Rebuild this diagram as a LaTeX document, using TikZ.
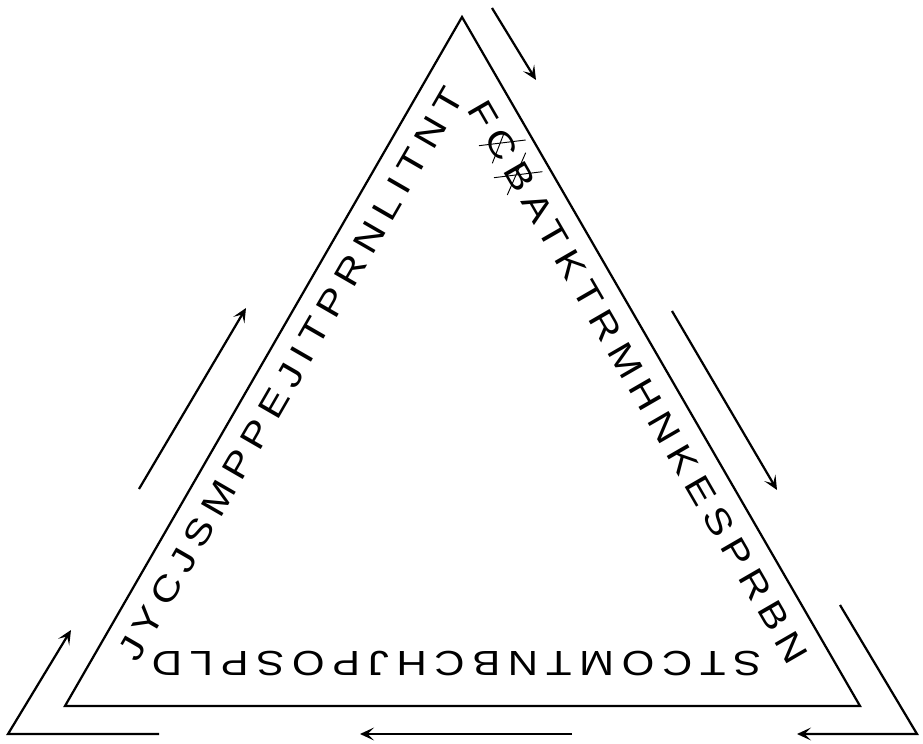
\documentclass[tikz,border=0pt]{standalone}
\usepackage{fontspec}
\setmainfont{Liberation Sans}
\newfontfamily\edgefont[LetterSpace=22, FakeStretch=1.2]{Liberation Sans}
\usetikzlibrary{arrows.meta}

\begin{document}
\begin{tikzpicture}[x=0.3mm, y=0.3mm,
    frame/.style={line width=1.9pt},
    flow/.style={line width=1.9pt, -{Stealth[length=12pt, width=11pt, inset=5.5pt]}},
    edgetext/.style={anchor=base, inner sep=0pt, font=\edgefont\fontsize{29.8}{30}\selectfont},
    strike/.style={line width=0.8pt}]
  \useasboundingbox (0,0) rectangle (923,743);

  \coordinate (apex) at (462,726);
  \coordinate (bl) at (65,37);
  \coordinate (br) at (860,37);
  \draw[frame] (apex) -- (br) -- (bl) -- cycle;

  % letters along the inside of each side
  \node[edgetext, rotate=60] (lefttext) at (301,363) {JYCJSMPPEJITPRNLITNT};
  \node[edgetext, rotate=-60] (righttext) at (628,355) {FCBATKTRMHNKESPRBN};
  \node[edgetext, rotate=180] (bottomtext) at (456.5,91) {STCOMTNBCHJPOSPLD};

  % crossed letters
  \draw[strike] (479,597.3) -- (525.7,603);
  \draw[strike] (492.3,579.7) -- (504,609.7);
  \draw[strike] (494,565.3) -- (542.3,571.3);
  \draw[strike] (525.7,590.3) -- (507.3,548);

  % arrows round the outside
  \coordinate (topa) at (492,735);
  \coordinate (topb) at (536,663);
  \coordinate (rma) at (672,432);
  \coordinate (rmb) at (777,253);
  \coordinate (rca) at (840,138);
  \coordinate (rcb) at (917,9);
  \coordinate (rcc) at (797,9);
  \coordinate (bma) at (572,9);
  \coordinate (bmb) at (360,9);
  \coordinate (lca) at (159,9);
  \coordinate (lcb) at (8,9);
  \coordinate (lcc) at (71,113);
  \coordinate (lma) at (139,254);
  \coordinate (lmb) at (246,435);
  \draw[flow] (topa) -- (topb);
  \draw[flow] (rma) -- (rmb);
  \draw[flow] (rca) -- (rcb) -- (rcc);
  \draw[flow] (bma) -- (bmb);
  \draw[flow] (lca) -- (lcb) -- (lcc);
  \draw[flow] (lma) -- (lmb);
\end{tikzpicture}
\end{document}
